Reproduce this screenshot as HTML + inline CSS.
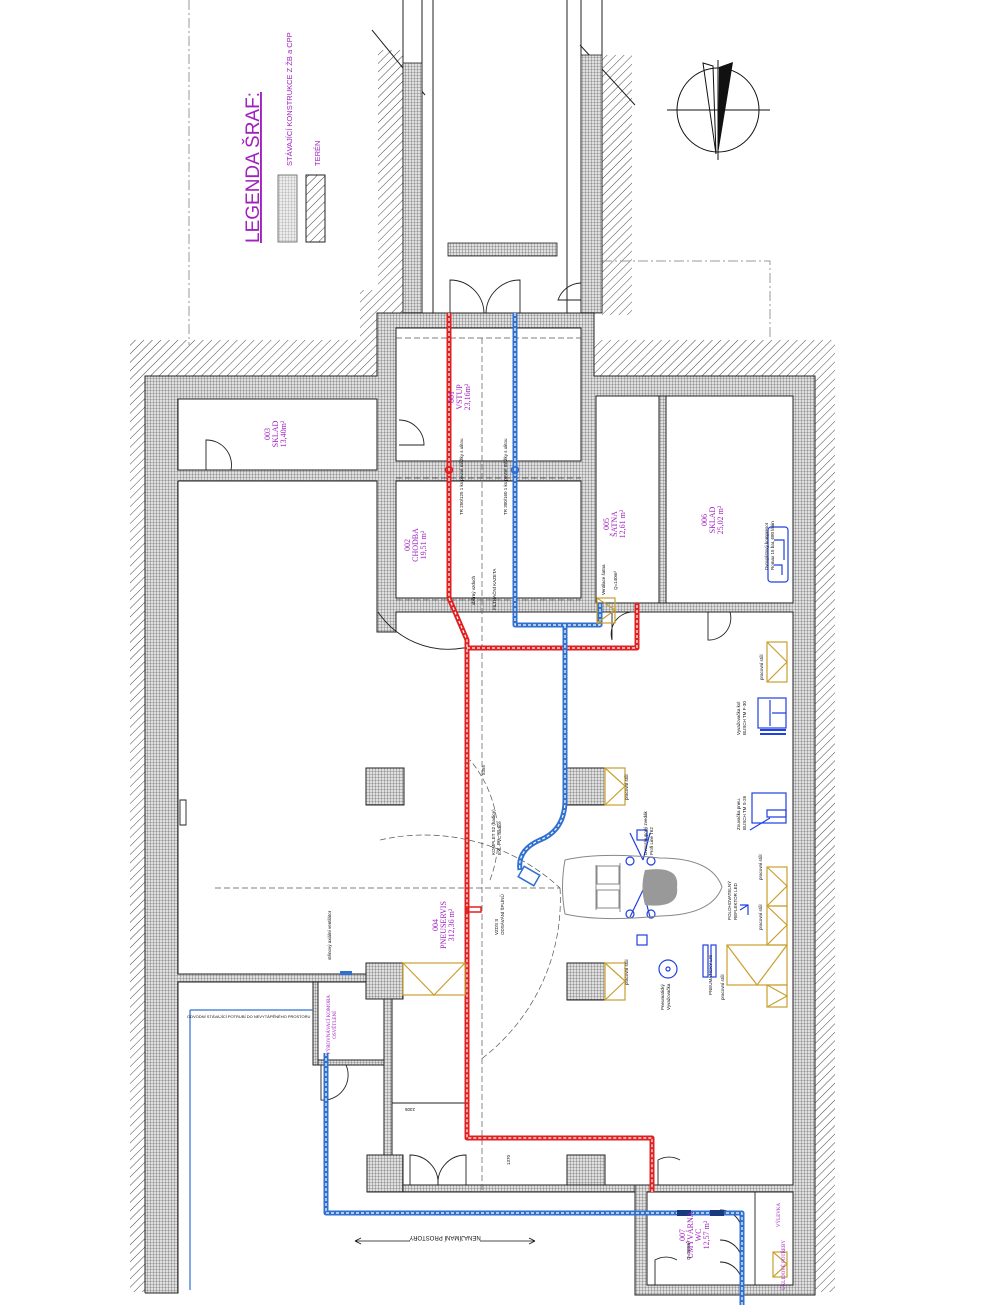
<!DOCTYPE html>
<html><head><meta charset="utf-8"><style>
html,body{margin:0;padding:0;background:#fff}
svg{display:block}
.p{fill:#a020c0;font-family:"Liberation Serif",serif}
.ps{fill:#a020c0;font-family:"Liberation Sans",sans-serif}
.k{fill:#111;font-family:"Liberation Sans",sans-serif;font-size:4.5px}
</style></head><body>
<svg width="1000" height="1312" viewBox="0 0 1000 1312" xmlns="http://www.w3.org/2000/svg">
<defs>
<pattern id="g" width="3" height="3" patternUnits="userSpaceOnUse">
<rect width="3" height="3" fill="#e0e0e0"/><path d="M0 0H3M0 0V3" stroke="#4a4a4a" stroke-width="0.6"/></pattern>
<pattern id="h" width="6" height="6" patternUnits="userSpaceOnUse" patternTransform="rotate(45)">
<rect width="6" height="6" fill="#fff"/><path d="M0 0V6" stroke="#333" stroke-width="0.9"/></pattern>
</defs>
<rect width="1000" height="1312" fill="#fff"/>
<!-- terrain hatch -->
<rect x="130" y="340" width="15" height="952" fill="url(#h)"/>
<rect x="815" y="340" width="20" height="952" fill="url(#h)"/>
<rect x="130" y="340" width="247" height="36" fill="url(#h)"/>
<rect x="594" y="340" width="241" height="36" fill="url(#h)"/>
<rect x="378" y="50" width="25" height="263" fill="url(#h)"/>
<rect x="602" y="55" width="30" height="260" fill="url(#h)"/>
<rect x="360" y="290" width="20" height="50" fill="url(#h)"/>
<!-- dash dot lines -->
<g stroke="#999" stroke-width="1" stroke-dasharray="10 3 2 3" fill="none">
<path d="M189 0V345"/><path d="M602 261H770V340"/>
</g>
<!-- shaft -->
<g stroke="#222" stroke-width="1" fill="none">
<path d="M403 0V313M422 0V313M433 0V313M567 0V313M581 0V313M602 0V313"/>
<path d="M372 30L425 95M580 45L635 105"/>
</g>
<rect x="403" y="63" width="19" height="250" fill="url(#g)" stroke="#222" stroke-width="0.8"/>
<rect x="581" y="55" width="21" height="258" fill="url(#g)" stroke="#222" stroke-width="0.8"/>
<rect x="448" y="243" width="109" height="13" fill="url(#g)" stroke="#222" stroke-width="0.8"/>
<g stroke="#222" stroke-width="0.9" fill="none">
<path d="M450 313V280A34 34 0 0 1 484 313M520 313V280A34 34 0 0 0 486 313"/>
<path d="M581 283A25 25 0 0 0 558 300H581"/>
</g>
<!-- building grid -->
<g fill="url(#g)" stroke="none">
<rect x="145" y="376" width="670" height="816"/>
<rect x="145" y="1192" width="33" height="101"/>
<rect x="377" y="313" width="217" height="67"/>
<rect x="635" y="1185" width="180" height="110"/>
</g>
<!-- interiors -->
<g fill="#fff" stroke="#222" stroke-width="1">
<rect x="396" y="328" width="185" height="133"/>
<rect x="396" y="481" width="185" height="117"/>
<rect x="178" y="399" width="199" height="71"/>
<rect x="596" y="396" width="63" height="207"/>
<rect x="666" y="396" width="127" height="207"/>
<rect x="647" y="1192" width="146" height="93"/>
</g>
<g fill="#fff" stroke="none">
<rect x="178" y="481" width="199" height="493"/>
<rect x="396" y="612" width="397" height="351"/>
<rect x="377" y="632" width="20" height="331"/>
<rect x="403" y="963" width="390" height="222"/>
<rect x="392" y="999" width="11" height="156"/>
<rect x="178" y="982" width="189" height="320"/>
<rect x="367" y="999" width="17" height="156"/>
<rect x="367" y="1192" width="268" height="120"/>
</g>
<!-- outlines -->
<g stroke="#222" stroke-width="1" fill="none">
<path d="M145 1293V376H377V313H594V376H815V1295H635V1192"/>
<path d="M145 1293H178V982H366M178 481V974H366M178 481H377V632H396V612H793V1185H605M567 1185H403"/>
<path d="M392 999V1155M384 999V1155M403 1192H635"/>
</g>
<!-- pillars -->
<g fill="url(#g)" stroke="#222" stroke-width="1">
<rect x="366" y="963" width="37" height="36"/>
<rect x="366" y="768" width="38" height="37"/>
<rect x="567" y="768" width="38" height="37"/>
<rect x="567" y="963" width="38" height="37"/>
<rect x="367" y="1155" width="36" height="37"/>
<rect x="567" y="1155" width="38" height="37"/>
<rect x="384" y="999" width="8" height="156"/>
<rect x="403" y="1185" width="232" height="7"/>
<rect x="313" y="982" width="5" height="83"/>
<rect x="318" y="1060" width="66" height="5"/>
<rect x="659" y="396" width="7" height="207"/>
</g>
<!-- doors -->
<g stroke="#222" stroke-width="0.9" fill="none">
<path d="M206 470V440A25 25 0 0 1 231 470"/>
<path d="M399 420A25 25 0 0 1 424 445H399"/>
<path d="M378 612A85 85 0 0 0 463 648H565"/>
<path d="M612 612V640A22 22 0 0 1 634 612"/>
<path d="M708 612V640A22 22 0 0 0 730 612"/>
<path d="M321 1065V1100A25 25 0 0 0 346 1065"/>
<path d="M410 1185V1155A28 28 0 0 1 438 1185M466 1185V1155A28 28 0 0 0 438 1185"/>
<path d="M658 1185V1160A22 22 0 0 1 680 1160"/>
<path d="M655 1285V1260A22 22 0 0 1 677 1260"/>
<path d="M720 1210A22 22 0 0 1 742 1232M720 1240A22 22 0 0 1 742 1262M720 1262A22 22 0 0 1 742 1284"/>
<path d="M755 1192V1285"/>
<path d="M186 800V825H180V800Z"/>
<path d="M392 1103H467M352 1241"/>
</g>
<!-- dashed axes -->
<g stroke="#555" stroke-width="0.7" stroke-dasharray="6 3" fill="none">
<path d="M396 338H581M396 478H581M396 600H581M482 338V1190"/>
<path d="M215 888H560"/>
<path d="M380 840A200 200 0 0 1 560 888M560 888A200 200 0 0 1 480 1060"/>
<path d="M490 880A120 120 0 0 0 470 760"/>
</g>
<!-- pipes -->
<g fill="none" stroke-linejoin="round">
<path d="M449 313V598L467 640V1138H652V1192M467 648H637V603" stroke="#e02020" stroke-width="5"/>
<path d="M449 313V598L467 640V1138H652V1192M467 648H637V603" stroke="#fff" stroke-width="1.2" stroke-dasharray="3 2"/>
<path d="M515 313V625H600V603M565 625V800Q565 830 540 840Q517 850 520 870" stroke="#3070d0" stroke-width="5"/>
<path d="M515 313V625H600V603M565 625V800Q565 830 540 840Q517 850 520 870" stroke="#fff" stroke-width="1.2" stroke-dasharray="3 2"/>
<path d="M326 1053V1213H742V1305" stroke="#3070d0" stroke-width="5"/>
<path d="M326 1053V1213H742V1305" stroke="#fff" stroke-width="1.2" stroke-dasharray="3 2"/>
<path d="M190 1010V1290M190 1010H313" stroke="#3070d0" stroke-width="1.2"/>
</g>
<circle cx="449" cy="470" r="3.5" fill="none" stroke="#e02020" stroke-width="1.5"/>
<circle cx="515" cy="470" r="3.5" fill="none" stroke="#3070d0" stroke-width="1.5"/>
<rect x="520" y="870" width="18" height="12" transform="rotate(30 529 876)" fill="none" stroke="#3070d0" stroke-width="1.5"/>
<rect x="467" y="907" width="14" height="5" fill="none" stroke="#e02020" stroke-width="1.5"/>
<rect x="677" y="1210" width="14" height="6" fill="#1a3a80"/><rect x="710" y="1210" width="14" height="6" fill="#1a3a80"/>
<path d="M340 975h12v-4h-12z" fill="#3070d0"/>
<!-- yellow boxes -->
<g fill="none" stroke="#c8a030" stroke-width="1.2">
<rect x="767" y="642" width="20" height="40"/><path d="M767 642L787 662L767 682"/>
<rect x="605" y="768" width="20" height="37"/><path d="M605 768L625 786L605 805"/>
<rect x="605" y="963" width="20" height="37"/><path d="M605 963L625 981L605 1000"/>
<rect x="403" y="963" width="62" height="32"/><path d="M403 963L434 995L465 963"/>
<rect x="767" y="867" width="20" height="39"/><path d="M767 867L787 886L767 906"/>
<rect x="767" y="906" width="20" height="39"/><path d="M767 906L787 925L767 945"/>
<rect x="727" y="945" width="60" height="40"/><path d="M727 945L757 985L787 945"/>
<rect x="767" y="985" width="20" height="22"/><path d="M767 985L787 996L767 1007"/>
<rect x="597" y="598" width="18" height="25"/><path d="M597 598L615 610L597 623"/>
<rect x="773" y="1252" width="14" height="25"/><path d="M773 1252L787 1264L773 1277"/>
</g>
<!-- blue equipment -->
<g fill="none" stroke="#2040e0" stroke-width="1.2">
<rect x="768" y="527" width="20" height="55" rx="3"/><path d="M774 540H784V560M774 565H782V575"/>
<rect x="758" y="698" width="28" height="30"/><path d="M770 700V726M772 713H786"/>
<path d="M760 730H786M760 734H786" stroke-width="2"/>
<rect x="752" y="793" width="34" height="30"/><path d="M767 810H786V817H767Z M750 830L770 818"/>
<path d="M630 833L643 860M650 833L643 860M630 917L643 890M650 917L643 890"/>
<circle cx="630" cy="861" r="4"/><circle cx="651" cy="861" r="4"/><circle cx="630" cy="914" r="4"/><circle cx="651" cy="914" r="4"/>
<rect x="637" y="830" width="10" height="10"/><rect x="637" y="935" width="10" height="10"/>
<circle cx="668" cy="969" r="9"/><circle cx="668" cy="969" r="2"/>
<rect x="703" y="945" width="5" height="32"/><rect x="711" y="945" width="5" height="32"/>
<path d="M740 905H748V915M740 910L748 905"/>
</g>
<!-- car -->
<g fill="none" stroke="#888" stroke-width="1">
<path d="M565 860Q560 887 565 914Q600 922 660 916Q712 915 722 887Q712 858 660 858Q600 852 565 860Z"/>
<path d="M596 865V910M620 863V912"/>
<rect x="597" y="866" width="22" height="18"/><rect x="597" y="890" width="22" height="18"/>
</g>
<path d="M645 870Q680 865 677 887Q680 909 645 905Q640 887 645 870Z" fill="#999"/>
<!-- compass -->
<g stroke="#111" stroke-width="1" fill="none">
<ellipse cx="718" cy="110" rx="41" ry="42"/>
<path d="M667 110H770M718 60V160"/>
<path d="M703 63L716 154L713 66Z"/>
</g>
<path d="M733 62L718 154L719 67Z" fill="#111"/>
<!-- legend -->
<text class="ps" font-size="19" transform="translate(259,243) rotate(-90)" text-decoration="underline">LEGENDA ŠRAF:</text>
<text class="ps" font-size="7.5" transform="translate(292,166) rotate(-90)">STÁVAJÍCÍ KONSTRUKCE Z ŽB a CPP</text>
<text class="ps" font-size="7.5" transform="translate(320,166) rotate(-90)">TERÉN</text>
<rect x="278" y="175" width="19" height="67" fill="url(#g)" stroke="#222" opacity="0.6"/>
<rect x="306" y="175" width="19" height="67" fill="url(#h)" stroke="#222"/>
<!-- room labels -->
<g class="p" font-size="8" text-anchor="middle">
<text transform="translate(278,434) rotate(-90)"><tspan x="0" dy="-8">003</tspan><tspan x="0" dy="8">SKLAD</tspan><tspan x="0" dy="8">13,40m²</tspan></text>
<text transform="translate(462,397) rotate(-90)"><tspan x="0" dy="-8">001</tspan><tspan x="0" dy="8">VSTUP</tspan><tspan x="0" dy="8">23,16m²</tspan></text>
<text transform="translate(418,545) rotate(-90)"><tspan x="0" dy="-8">002</tspan><tspan x="0" dy="8">CHODBA</tspan><tspan x="0" dy="8">19,51 m²</tspan></text>
<text transform="translate(617,524) rotate(-90)"><tspan x="0" dy="-8">005</tspan><tspan x="0" dy="8">ŠATNA</tspan><tspan x="0" dy="8">12,61 m²</tspan></text>
<text transform="translate(715,520) rotate(-90)"><tspan x="0" dy="-8">006</tspan><tspan x="0" dy="8">SKLAD</tspan><tspan x="0" dy="8">25,02 m²</tspan></text>
<text transform="translate(446,925) rotate(-90)"><tspan x="0" dy="-8">004</tspan><tspan x="0" dy="8">PNEUSERVIS</tspan><tspan x="0" dy="8">312,36 m²</tspan></text>
<text transform="translate(693,1235) rotate(-90)"><tspan x="0" dy="-8">007</tspan><tspan x="0" dy="8">UMÝVÁRNA</tspan><tspan x="0" dy="8">WC</tspan><tspan x="0" dy="8">12,57 m²</tspan></text>
<text font-size="5" transform="translate(330,1025) rotate(-90)"><tspan x="0">VÝROVNÁVACÍ KOMORA</tspan><tspan x="0" dy="6">OSVĚTLENÍ</tspan></text>
<text font-size="5" transform="translate(780,1215) rotate(-90)">VÝLEVKA</text>
<text font-size="5" transform="translate(785,1265) rotate(-90)">ÚKLIDOVÉ POTŘEBY</text>
</g>
<!-- small annotations -->
<g class="k">
<text transform="translate(463,515) rotate(-90)">TR 250/125 1 ks pevné mřížky s ulitou</text>
<text transform="translate(507,515) rotate(-90)">TR 300/160 1 ks pevné mřížky s ulitou</text>
<text transform="translate(475,605) rotate(-90)">sběrný vzduch</text>
<text transform="translate(496,610) rotate(-90)">FILTRAČNÍ KAZETA</text>
<text transform="translate(495,855) rotate(-90)">KOMPLET S2 (hadice)</text>
<text transform="translate(501,855) rotate(-90)">EXL-PVC hadice</text>
<text transform="translate(498,935) rotate(-90)">VZDS S</text>
<text transform="translate(504,935) rotate(-90)">ODSÁVÁNÍ ŠPLÍNŮ</text>
<text transform="translate(647,855) rotate(-90)">Dvousloupový zvedák</text>
<text transform="translate(653,855) rotate(-90)">Profi Line T62</text>
<text transform="translate(740,735) rotate(-90)">Vyvažovačka kol</text>
<text transform="translate(746,735) rotate(-90)">BUSCH TM F-30</text>
<text transform="translate(740,830) rotate(-90)">Zouvačka pneu.</text>
<text transform="translate(746,830) rotate(-90)">BUSCH TM S-26</text>
<text transform="translate(731,920) rotate(-90)">POLOHOVATELNÝ</text>
<text transform="translate(737,920) rotate(-90)">REFLEKTOR LED</text>
<text transform="translate(712,995) rotate(-90)">PNEUMATICKÝ LIS</text>
<text transform="translate(763,680) rotate(-90)">pracovní stůl</text>
<text transform="translate(762,880) rotate(-90)">pracovní stůl</text>
<text transform="translate(762,930) rotate(-90)">pracovní stůl</text>
<text transform="translate(628,985) rotate(-90)">pracovní stůl</text>
<text transform="translate(628,800) rotate(-90)">pracovní stůl</text>
<text transform="translate(724,1000) rotate(-90)">pracovní stůl</text>
<text transform="translate(664,1010) rotate(-90)">Pneumatický</text>
<text transform="translate(670,1010) rotate(-90)">Vyvažovačka</text>
<text transform="translate(768,570) rotate(-90)">Dvoupístový kompresor</text>
<text transform="translate(774,570) rotate(-90)">Romax 15 bar, 680 l/min</text>
<text transform="translate(605,595) rotate(-90)">Ventilace šatna</text>
<text transform="translate(617,590) rotate(-90)">Q=140m³</text>
<text transform="translate(331,960) rotate(-90)">stěnový axiální ventilátor</text>
<text transform="translate(187,1018)" font-size="4">ODVODNÍ STÁVAJÍCÍ POTRUBÍ DO NEVYTÁPĚNÉHO PROSTORU</text>
<text transform="translate(415,1108) rotate(180)">2305</text>
<text transform="translate(485,775) rotate(-90)">5355</text>
<text transform="translate(510,1165) rotate(-90)">1370</text>
<text transform="translate(690,1260) rotate(-90)">Q=190m³</text>
</g>
<text transform="translate(445,1236) rotate(180)" font-family="Liberation Sans,sans-serif" font-size="6" fill="#111" text-anchor="middle">NENAJÍMANÍ PROSTORY</text>
<path d="M355 1241H410M480 1241H535M355 1241l6-3M355 1241l6 3M535 1241l-6-3M535 1241l-6 3" stroke="#111" stroke-width="0.8"/>
</svg>
</body></html>
